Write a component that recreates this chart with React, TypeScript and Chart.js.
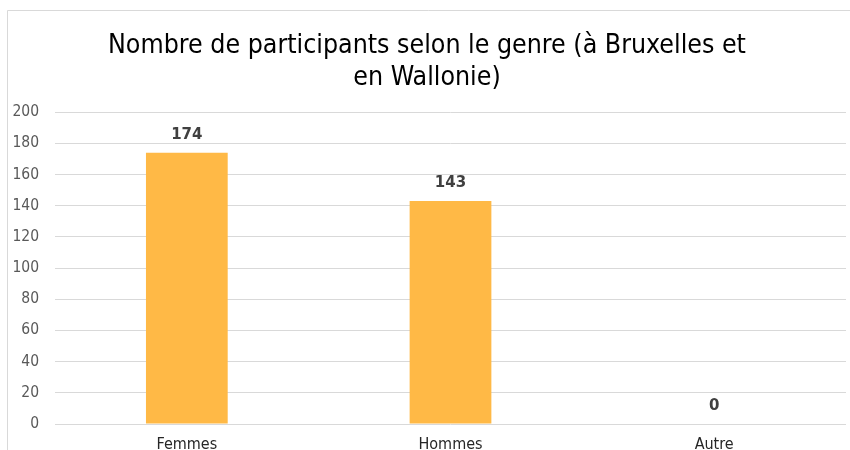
import React, { useEffect, useRef } from "react";
import { Chart, registerables } from "chart.js";

Chart.register(...registerables);

const categories = ["Femmes", "Hommes", "Autre"];
const participants = [174, 143, 0];
const yTicks = [0, 20, 40, 60, 80, 100, 120, 140, 160, 180, 200];
const titleLines = ["Nombre de participants selon le genre (à Bruxelles et", "en Wallonie)"];

const borderPlugin = {
  id: "outerBorder",
  beforeDraw(chart: any) {
    const ctx = chart.ctx;
    ctx.save();
    ctx.fillStyle = "#ffffff";
    ctx.fillRect(0, 0, chart.width, chart.height);
    ctx.strokeStyle = "#d9d9d9";
    ctx.lineWidth = 1;
    ctx.beginPath();
    ctx.moveTo(7.5, chart.height);
    ctx.lineTo(7.5, 10.5);
    ctx.lineTo(chart.width, 10.5);
    ctx.stroke();
    ctx.restore();
  },
};

const valueLabels = {
  id: "valueLabels",
  afterDatasetsDraw(chart: any) {
    const ctx = chart.ctx;
    const meta = chart.getDatasetMeta(0);
    ctx.save();
    ctx.font = "bold 15px 'DejaVu Sans'";
    ctx.fillStyle = "#404040";
    ctx.textAlign = "center";
    ctx.textBaseline = "bottom";
    meta.data.forEach((bar: any, i: number) => {
      const v = chart.data.datasets[0].data[i];
      ctx.fillText(String(v), bar.x, bar.y - 10);
    });
    ctx.restore();
  },
};

export default function App() {
  const ref = useRef<HTMLCanvasElement>(null);
  useEffect(() => {
    if (!ref.current) return;
    const chart = new Chart(ref.current, {
      type: "bar",
      data: {
        labels: categories,
        datasets: [
          {
            data: participants,
            backgroundColor: "#ffb946",
            barPercentage: 0.62,
            categoryPercentage: 0.5,
          },
        ],
      },
      options: {
        responsive: false,
        animation: false,
        layout: { padding: { left: 8, right: 4, top: 10, bottom: 0 } },
        plugins: {
          legend: { display: false },
          tooltip: { enabled: false },
          title: {
            display: true,
            text: titleLines,
            color: "#000000",
            font: { family: "'DejaVu Sans Condensed', sans-serif", size: 26.5, weight: "normal" },
            lineHeight: 1.13,
            padding: { top: 20, bottom: 18.5 },
          },
        },
        scales: {
          x: {
            grid: { display: false, drawTicks: false },
            border: { display: false },
            ticks: {
              color: "#262626",
              font: { family: "'DejaVu Sans Condensed', sans-serif", size: 16 },
              padding: 11,
            },
            afterFit(axis: any) {
              axis.height = 56;
            },
          },
          y: {
            min: 0,
            max: 200,
            afterBuildTicks(axis: any) {
              axis.ticks = yTicks.map((v) => ({ value: v }));
            },
            grid: { color: "#d9d9d9", lineWidth: 1, drawTicks: false },
            border: { display: false },
            ticks: {
              color: "#595959",
              font: { family: "'DejaVu Sans Condensed', sans-serif", size: 15.5 },
              padding: 16,
            },
            afterFit(axis: any) {
              axis.width = 47;
            },
          },
        },
      },
      plugins: [borderPlugin, valueLabels],
    });
    return () => chart.destroy();
  }, []);
  return (
    <div style={{ position: "fixed", left: 0, top: 0, width: 850, height: 450, overflow: "hidden", background: "#fff" }}>
      <canvas ref={ref} width={850} height={480} />
    </div>
  );
}
